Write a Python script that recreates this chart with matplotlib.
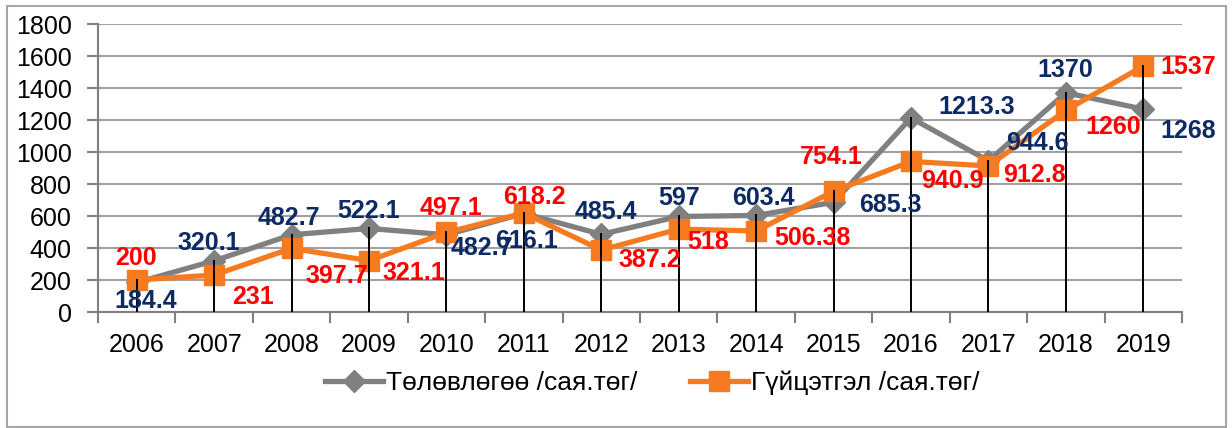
import matplotlib
matplotlib.use("Agg")
import matplotlib.pyplot as plt
from matplotlib.lines import Line2D
from matplotlib.patches import Rectangle

plt.rcParams['font.family'] = ['Liberation Sans', 'DejaVu Sans']

years = ['2006', '2007', '2008', '2009', '2010', '2011', '2012', '2013',
         '2014', '2015', '2016', '2017', '2018', '2019']
plan = [184.4, 320.1, 482.7, 522.1, 482.7, 616.1, 485.4, 597,
        603.4, 685.3, 1213.3, 944.6, 1370, 1268]
actual = [200, 231, 397.7, 321.1, 497.1, 618.2, 387.2, 518,
          506.38, 754.1, 940.9, 912.8, 1260, 1537]
plan_labels = ['184.4', '320.1', '482.7', '522.1', '482.7', '616.1', '485.4', '597',
               '603.4', '685.3', '1213.3', '944.6', '1370', '1268']
actual_labels = ['200', '231', '397.7', '321.1', '497.1', '618.2', '387.2', '518',
                 '506.38', '754.1', '940.9', '912.8', '1260', '1537']
series_names = ['Төлөвлөгөө /сая.төг/', 'Гүйцэтгэл /сая.төг/']

# label offsets in pixels (dx, dy up)
plan_off = [(9, -19), (-5, 18), (-3, 17), (0, 17), (36, -13), (3, -28), (5, 22),
            (0, 18), (7, 17), (57, -3), (66, 11), (49, 18), (-1, 23), (45, -22)]
act_off = [(-1, 22), (39, -22), (45, -28), (45, -12), (5, 24), (11, 16), (49, -10),
           (29, -13), (56, -7), (-2, 34), (41, -20), (46, -9), (47, -17), (45, -1)]

GRAY = '#808080'
ORANGE = '#F67A20'
NAVY = '#0E2A64'
RED = '#FF0000'

fig = plt.figure(figsize=(12.32, 4.28), dpi=100)
fig.patches.append(Rectangle((7 / 1232, 0.002), 1219 / 1232, 1 - 6 / 428 - 0.002,
                             transform=fig.transFigure, fill=False,
                             edgecolor='#A6A6A6', lw=1.5))
ax = fig.add_axes([98 / 1232, 1 - 312 / 428, 1084 / 1232, 288 / 428])

x = list(range(len(years)))
ax.plot(x, plan, color=GRAY, lw=3.8, marker='D', markersize=11, zorder=3)
ax.plot(x, actual, color=ORANGE, lw=3.8, marker='s', markersize=14, zorder=4)

# drop lines (drawn over the markers)
for i in x:
    ax.plot([i, i], [0, max(plan[i], actual[i])], color='black', lw=1.4, zorder=5)

px = 0.72
for i in x:
    dx, dy = plan_off[i]
    ax.annotate(plan_labels[i], (i, plan[i]), xytext=(dx * px, dy * px),
                textcoords='offset points', ha='center', va='center',
                fontsize=18, fontweight='bold', color=NAVY, zorder=6)
    dx, dy = act_off[i]
    ax.annotate(actual_labels[i], (i, actual[i]), xytext=(dx * px, dy * px),
                textcoords='offset points', ha='center', va='center',
                fontsize=18, fontweight='bold', color=RED, zorder=6)

ax.set_xlim(-0.5, len(years) - 0.5)
ax.set_ylim(0, 1800)
ax.set_yticks(range(0, 1801, 200))
ax.set_xticks(x)
ax.set_xticklabels(years)
ax.set_xticks([i - 0.5 for i in range(len(years) + 1)], minor=True)
ax.tick_params(axis='x', which='major', length=0, labelsize=18, pad=15)
ax.tick_params(axis='x', which='minor', length=8, width=1.5, color=GRAY)
ax.tick_params(axis='y', length=8, width=1.5, color=GRAY, labelsize=18, pad=11)
ax.yaxis.grid(True, color='#A0A0A0', lw=1.5)
ax.set_axisbelow(True)
for s in ['top', 'right']:
    ax.spines[s].set_visible(False)
for s in ['left', 'bottom']:
    ax.spines[s].set_color(GRAY)
    ax.spines[s].set_linewidth(1.5)

handles = [Line2D([], [], color=GRAY, lw=3.8, marker='D', markersize=11),
           Line2D([], [], color=ORANGE, lw=3.8, marker='s', markersize=14)]
fig.legend(handles, series_names, loc='center', bbox_to_anchor=(652 / 1232, 1 - 383 / 428),
           ncol=2, frameon=False, fontsize=19, handlelength=2.2, columnspacing=2.0,
           handletextpad=0.1)

fig.savefig('out.png', dpi=100)
